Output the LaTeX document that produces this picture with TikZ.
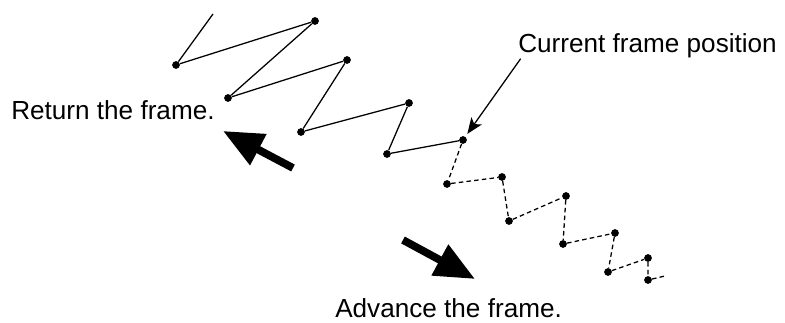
\documentclass[tikz,border=0pt]{standalone}
\usepackage{fontspec}
\setmainfont{Liberation Sans}
\usepackage{tikz}
\usetikzlibrary{arrows.meta}

\begin{document}
\begin{tikzpicture}[x=0.75pt, y=-0.75pt,
  dot/.style={circle, fill=black, inner sep=0pt, minimum size=5.8pt},
  label/.style={font=\fontsize{19.6}{23}\selectfont, inner sep=0pt, anchor=base west},
  trail/.style={black, line width=0.95pt},
  ahead/.style={black, line width=0.95pt, dash pattern=on 3.4pt off 2.4pt},
  bigarrow/.style={black, line width=5.8pt, -{Triangle[length=30pt, width=25pt]}},
  pointer/.style={black, line width=0.95pt, -{Stealth[length=12pt, width=9.5pt, inset=3pt]}, shorten >=2.5pt}]
  \useasboundingbox (0,0) rectangle (785,323);
  % frames already passed
  \coordinate (p0) at (213,14);
  \node[dot] (p1) at (176,65) {};
  \node[dot] (p2) at (315,21) {};
  \node[dot] (p3) at (228,98) {};
  \node[dot] (p4) at (347,60) {};
  \node[dot] (p5) at (301,132) {};
  \node[dot] (p6) at (409,103) {};
  \node[dot] (p7) at (387,154) {};
  \node[dot] (p8) at (463,140) {};
  % frames still to come
  \node[dot] (p9) at (447,184) {};
  \node[dot] (p10) at (502,177) {};
  \node[dot] (p11) at (509,221) {};
  \node[dot] (p12) at (566,196) {};
  \node[dot] (p13) at (563,244) {};
  \node[dot] (p14) at (615,233) {};
  \node[dot] (p15) at (608,272) {};
  \node[dot] (p16) at (648,258) {};
  \node[dot] (p17) at (648,280) {};
  \coordinate (p18) at (665,276);
  \draw[trail] (p0) -- (p1) -- (p2) -- (p3) -- (p4) -- (p5) -- (p6) -- (p7) -- (p8);
  \draw[ahead] (p8) -- (p9) -- (p10) -- (p11) -- (p12) -- (p13) -- (p14) -- (p15) -- (p16) -- (p17) -- (p18);
  % labels
  \node[label] (cur) at (518,53) {Current frame position};
  \node[label] (ret) at (11,120) {Return the frame.};
  \node[label] (adv) at (335,318) {Advance the frame.};
  \draw[pointer] ([xshift=2pt]cur.south west) -- (p8);
  % direction arrows
  \coordinate (rt) at (293,168);
  \coordinate (rh) at (223,131);
  \coordinate (at) at (403,240);
  \coordinate (ah) at (475,279);
  \draw[bigarrow] (rt) -- (rh);
  \draw[bigarrow] (at) -- (ah);
\end{tikzpicture}
\end{document}
